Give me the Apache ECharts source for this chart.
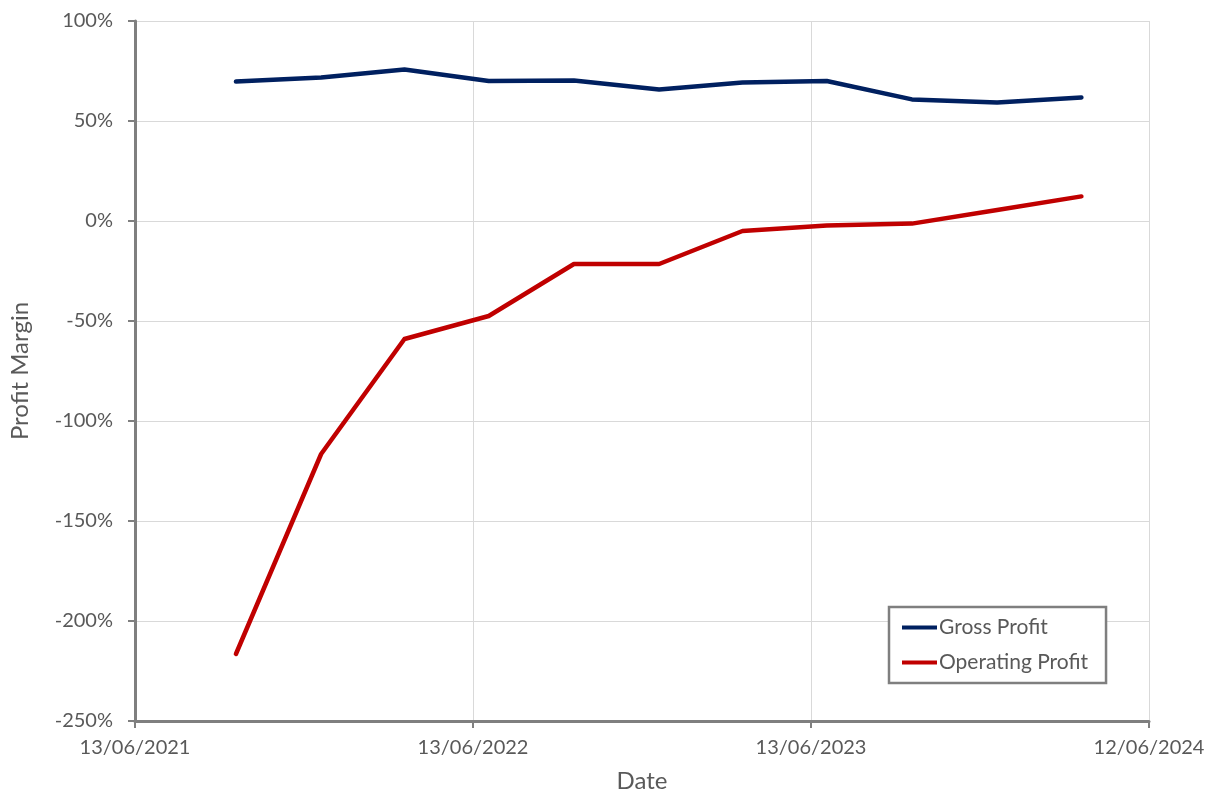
<!DOCTYPE html>
<html>
<head>
<meta charset="utf-8">
<script src="https://cdn.jsdelivr.net/npm/echarts@6/dist/echarts.min.js"></script>
<style>html,body{margin:0;padding:0;background:#fff}#c{width:1222px;height:799px}</style>
</head>
<body>
<div id="c"></div>
<script>
const dates = ['2021-09-30','2021-12-31','2022-03-31','2022-06-30','2022-09-30','2022-12-31','2023-03-31','2023-06-30','2023-09-30','2023-12-31','2024-03-31'];
const grossProfit = [69.7, 71.8, 75.8, 70.0, 70.2, 65.8, 69.2, 70.0, 60.8, 59.2, 61.8];
const operatingProfit = [-216.5, -116.5, -59.0, -47.5, -21.5, -21.5, -5.0, -2.2, -1.3, 5.5, 12.3];
const xStart = '2021-06-13';
const xEndDays = 1095;
const xTickDays = 365;
const yTicks = {min: -250, max: 100, interval: 50};

const DAY = 86400000;
function toUTC(s){const p=s.split('-').map(Number);return Date.UTC(p[0],p[1]-1,p[2]);}
const t0 = toUTC(xStart);
function dayOf(s){return Math.round((toUTC(s)-t0)/DAY);}
function fmtDay(v){const d=new Date(t0+v*DAY);const dd=String(d.getUTCDate()).padStart(2,'0');const mm=String(d.getUTCMonth()+1).padStart(2,'0');return dd+'/'+mm+'/'+d.getUTCFullYear();}

const FONT = 'Lato';
const TXT = '#595959';
const AX = '#7f7f7f';
const C1 = '#002060', C2 = '#C00000';
const chart = echarts.init(document.getElementById('c'), null, {renderer:'canvas'});
chart.setOption({
  backgroundColor:'#fff',
  animation:false,
  grid:{left:135,right:73,top:21,bottom:78,containLabel:false},
  legend:{
    orient:'vertical', left:889, top:607,
    padding:[10,18,10,13], itemGap:14, itemWidth:35, itemHeight:4,
    borderColor:AX, borderWidth:2.5, backgroundColor:'#fff',
    textStyle:{fontFamily:FONT,fontSize:21,color:TXT,padding:[0,0,0,-3]},
    data:[{name:'Gross Profit',icon:'rect',itemStyle:{color:C1}},{name:'Operating Profit',icon:'rect',itemStyle:{color:C2}}]
  },
  xAxis:{
    type:'value', min:0, max:xEndDays, interval:xTickDays,
    name:'Date', nameLocation:'middle', nameGap:48,
    nameTextStyle:{fontFamily:FONT,fontSize:24,color:TXT},
    axisLine:{onZero:false,lineStyle:{color:AX,width:3}},
    axisTick:{show:true,length:7,lineStyle:{color:AX,width:2}},
    axisLabel:{formatter:fmtDay,fontFamily:FONT,fontSize:20,color:TXT,margin:17},
    splitLine:{show:true,lineStyle:{color:'#d9d9d9',width:1}}
  },
  yAxis:{
    type:'value', min:yTicks.min, max:yTicks.max, interval:yTicks.interval,
    name:'Profit Margin', nameLocation:'middle', nameGap:103,
    nameTextStyle:{fontFamily:FONT,fontSize:24,color:TXT},
    axisLine:{show:true,onZero:false,lineStyle:{color:AX,width:3}},
    axisTick:{show:true,length:7,lineStyle:{color:AX,width:2}},
    axisLabel:{formatter:v=>v+'%',fontFamily:FONT,fontSize:20,color:TXT,margin:22},
    splitLine:{show:true,lineStyle:{color:'#d9d9d9',width:1}}
  },
  series:[
    {name:'Gross Profit',type:'line',symbol:'none',lineStyle:{color:C1,width:4.5,cap:'round',join:'round'},itemStyle:{color:C1},
     data:dates.map((d,i)=>[dayOf(d),grossProfit[i]])},
    {name:'Operating Profit',type:'line',symbol:'none',lineStyle:{color:C2,width:4.5,cap:'round',join:'round'},itemStyle:{color:C2},
     data:dates.map((d,i)=>[dayOf(d),operatingProfit[i]])}
  ]
});
</script>
</body>
</html>
